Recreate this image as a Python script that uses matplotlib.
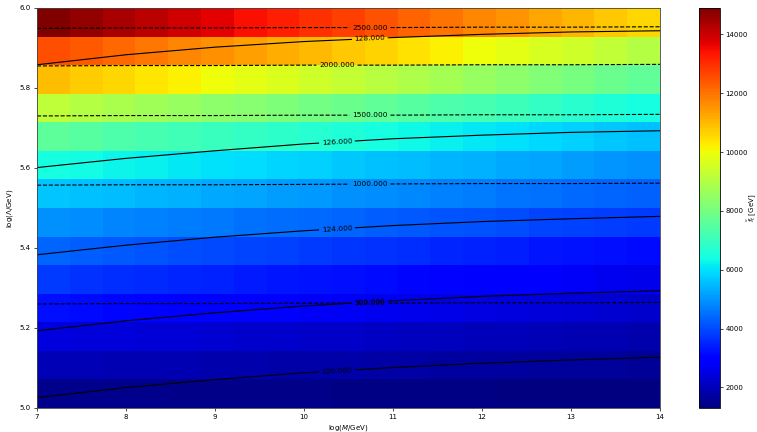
import numpy as np
import matplotlib
matplotlib.use("Agg")
import matplotlib.pyplot as plt

# grid of the colour map: log(M/GeV) along x, log(Lambda/GeV) along y
logM_edges = np.linspace(7, 14, 20)
logL_edges = np.linspace(5, 6, 15)

# f_t [GeV] per cell, bottom row (logL = 5.0) first, 19 columns each
ft_grid = np.array([
    [1490, 1480, 1470, 1460, 1450, 1440, 1430, 1420, 1410, 1400, 1390, 1380, 1370, 1360, 1340, 1330, 1320, 1310, 1300],
    [1970, 1950, 1930, 1910, 1890, 1870, 1850, 1830, 1810, 1780, 1760, 1740, 1720, 1700, 1680, 1660, 1640, 1620, 1600],
    [2430, 2400, 2370, 2340, 2310, 2270, 2240, 2210, 2180, 2150, 2120, 2090, 2060, 2030, 2000, 1960, 1930, 1900, 1870],
    [3200, 3150, 3090, 3040, 2990, 2930, 2880, 2830, 2770, 2720, 2670, 2610, 2560, 2510, 2450, 2400, 2350, 2290, 2240],
    [3750, 3690, 3620, 3560, 3500, 3440, 3370, 3310, 3250, 3180, 3120, 3060, 3000, 2930, 2870, 2810, 2740, 2680, 2620],
    [4330, 4260, 4190, 4130, 4060, 3990, 3920, 3860, 3790, 3720, 3650, 3590, 3520, 3450, 3380, 3310, 3250, 3180, 3110],
    [4920, 4860, 4790, 4730, 4660, 4600, 4530, 4470, 4400, 4340, 4270, 4210, 4140, 4080, 4010, 3950, 3880, 3820, 3750],
    [5650, 5570, 5500, 5420, 5340, 5270, 5190, 5120, 5040, 4960, 4890, 4810, 4740, 4660, 4580, 4510, 4430, 4360, 4280],
    [6440, 6360, 6270, 6190, 6100, 6020, 5930, 5850, 5770, 5680, 5600, 5510, 5430, 5340, 5260, 5180, 5090, 5010, 4920],
    [7580, 7470, 7350, 7240, 7130, 7020, 6900, 6790, 6680, 6570, 6450, 6340, 6230, 6110, 6000, 5890, 5780, 5660, 5550],
    [9170, 9020, 8870, 8710, 8560, 8410, 8260, 8110, 7960, 7810, 7650, 7500, 7350, 7200, 7050, 6890, 6740, 6590, 6440],
    [10920, 10740, 10560, 10370, 10190, 10010, 9830, 9650, 9460, 9280, 9100, 8920, 8740, 8550, 8370, 8190, 8010, 7830, 7640],
    [12540, 12350, 12150, 11960, 11760, 11570, 11370, 11180, 10990, 10790, 10600, 10400, 10210, 10010, 9820, 9630, 9430, 9240, 9040],
    [14900, 14660, 14420, 14180, 13930, 13690, 13450, 13210, 12970, 12730, 12480, 12240, 12000, 11760, 11520, 11270, 11030, 10790, 10550],
])

# contour lines at logM = 7, 8, ..., 14
line_x = [7, 8, 9, 10, 11, 12, 13, 14]

mh_levels = [120, 122, 124, 126, 128]
mh_lines = [
    [5.026, 5.051, 5.071, 5.088, 5.101, 5.112, 5.120, 5.127],
    [5.193, 5.218, 5.238, 5.255, 5.268, 5.279, 5.287, 5.293],
    [5.383, 5.407, 5.427, 5.443, 5.456, 5.466, 5.473, 5.479],
    [5.601, 5.624, 5.643, 5.660, 5.673, 5.682, 5.689, 5.693],
    [5.858, 5.883, 5.902, 5.916, 5.926, 5.934, 5.940, 5.943],
]
mh_label_x = [10.37, 10.74, 10.37, 10.37, 10.74]

lam_levels = [500, 1000, 1500, 2000, 2500]
lam_lines = [
    [5.260, 5.261, 5.261, 5.262, 5.262, 5.263, 5.263, 5.264],
    [5.557, 5.558, 5.558, 5.559, 5.560, 5.561, 5.561, 5.562],
    [5.730, 5.731, 5.731, 5.732, 5.732, 5.733, 5.733, 5.734],
    [5.855, 5.856, 5.856, 5.857, 5.857, 5.858, 5.858, 5.859],
    [5.949, 5.950, 5.950, 5.951, 5.951, 5.952, 5.952, 5.953],
]
lam_label_x = [10.74, 10.74, 10.74, 10.37, 10.74]

fs = 5

fig = plt.figure(figsize=(7.57, 4.32), dpi=100)
ax = fig.add_axes([0.0489, 0.0556, 0.8230, 0.926])
cax = fig.add_axes([0.9234, 0.0556, 0.0277, 0.926])

mesh = ax.pcolormesh(logM_edges, logL_edges, ft_grid, cmap='jet', vmin=1300, vmax=14900)
ax.set_xlim(7, 14)
ax.set_ylim(5, 6)


def draw_labelled(xs, ys, text, xc, ls):
    xs = np.asarray(xs, dtype=float)
    ys = np.asarray(ys, dtype=float)
    # gap in the line where the label sits, like clabel(inline=True)
    half = (len(text) * 4.4 + 6) / 2.0 / 89.0
    x0, x1 = xc - half, xc + half
    y0 = np.interp(x0, xs, ys)
    y1 = np.interp(x1, xs, ys)
    left = xs < x0
    right = xs > x1
    ax.plot(np.r_[xs[left], x0], np.r_[ys[left], y0], color='black', ls=ls, lw=0.8)
    ax.plot(np.r_[x1, xs[right]], np.r_[y1, ys[right]], color='black', ls=ls, lw=0.8)
    p0 = ax.transData.transform((x0, y0))
    p1 = ax.transData.transform((x1, y1))
    ang = np.degrees(np.arctan2(p1[1] - p0[1], p1[0] - p0[0]))
    ax.text(xc, np.interp(xc, xs, ys), text, rotation=ang, rotation_mode='anchor',
            ha='center', va='center', fontsize=5.3, color='black')


for lev, ys, xc in zip(mh_levels, mh_lines, mh_label_x):
    draw_labelled(line_x, ys, "%.3f" % lev, xc, '-')
for lev, ys, xc in zip(lam_levels, lam_lines, lam_label_x):
    draw_labelled(line_x, ys, "%.3f" % lev, xc, '--')

ax.set_xlabel(r'log($M$/GeV)', fontsize=fs, labelpad=2)
ax.set_ylabel(r'log($\Lambda$/GeV)', fontsize=fs, labelpad=3)
ax.tick_params(labelsize=fs, length=2.5, width=0.5, pad=2)
for sp in ax.spines.values():
    sp.set_linewidth(0.6)
    sp.set_color('#444444')

cb = fig.colorbar(mesh, cax=cax)
cb.set_label(r'$\tilde{f}_t$ [GeV]', fontsize=fs)
cb.ax.yaxis.set_label_coords(2.5, 0.5)
cb.ax.yaxis.label.set_va('center')
cb.ax.tick_params(labelsize=fs, length=2, width=0.5, pad=2)
cb.outline.set_linewidth(0.6)

plt.savefig("out.png", dpi=100)
